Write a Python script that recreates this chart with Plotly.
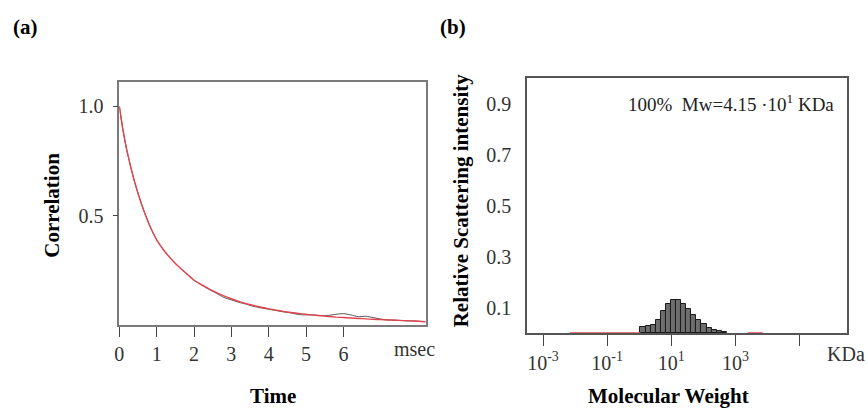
import plotly.graph_objects as go

# ---------------- data ----------------
# Panel (a): correlation function
time_ms = [0.0, 0.1, 0.2, 0.4, 0.6, 0.8, 1.0, 1.2, 1.4, 1.6, 1.8, 2.0, 2.2, 2.4, 2.6, 2.8,
           3.0, 3.2, 3.4, 3.6, 3.8, 4.0, 4.2, 4.4, 4.6, 4.8, 5.0, 5.2, 5.4, 5.6, 5.8,
           6.0, 6.2, 6.4, 6.6, 6.8, 7.0, 7.2, 7.4, 7.6, 7.8, 8.0, 8.2]
corr_fit = [1.0, 0.89, 0.80, 0.66, 0.55, 0.46, 0.39, 0.34, 0.30, 0.265, 0.235, 0.205, 0.185,
            0.165, 0.148, 0.133, 0.12, 0.108, 0.098, 0.089, 0.081, 0.074, 0.068, 0.062,
            0.057, 0.053, 0.049, 0.045, 0.042, 0.039, 0.036, 0.034, 0.032, 0.030, 0.028,
            0.026, 0.025, 0.023, 0.022, 0.020, 0.019, 0.017, 0.015]
corr_data = [1.0, 0.89, 0.80, 0.66, 0.55, 0.46, 0.39, 0.34, 0.30, 0.265, 0.235, 0.205, 0.183,
             0.163, 0.145, 0.126, 0.115, 0.104, 0.095, 0.085, 0.078, 0.072, 0.066, 0.060,
             0.055, 0.048, 0.046, 0.046, 0.043, 0.044, 0.049, 0.052, 0.046, 0.038, 0.040,
             0.034, 0.027, 0.023, 0.022, 0.020, 0.019, 0.017, 0.015]
time_ticks = [0, 1, 2, 3, 4, 5, 6]
corr_ticks = [0.5, 1.0]
corr_tick_labels = ["0.5", "1.0"]

# Panel (b): molecular weight distribution (log10 of KDa)
mw_log10_centers = [0.115, 0.274, 0.432, 0.591, 0.749, 0.908, 1.066, 1.225, 1.383,
                    1.542, 1.700, 1.859, 2.017, 2.176, 2.334, 2.493, 2.651]
mw_bin_width = 0.1585
intensity = [0.022, 0.026, 0.030, 0.050, 0.087, 0.113, 0.129, 0.129, 0.114, 0.093,
             0.072, 0.050, 0.034, 0.020, 0.011, 0.007, 0.003]
fit_zero_segments = [[-2.16, 0.04], [3.38, 3.85]]
mw_tick_log = [-3, -1, 1, 3, 5]
mw_tick_labels = ["10<sup>-3</sup>", "10<sup>-1</sup>", "10<sup>1</sup>", "10<sup>3</sup>", ""]
int_ticks = [0.1, 0.3, 0.5, 0.7, 0.9]
int_tick_labels = ["0.1", "0.3", "0.5", "0.7", "0.9"]

# ---------------- figure ----------------
W, H = 868, 411
SERIF = "Liberation Serif, Times New Roman, serif"
FRAME = "#7a7a7a"
TICKCOL = "#333333"

fig = go.Figure()

fig.add_trace(go.Scatter(x=time_ms, y=corr_data, mode="lines",
                         line=dict(color="#555555", width=1, shape="spline", smoothing=0.6),
                         xaxis="x", yaxis="y", showlegend=False))
fig.add_trace(go.Scatter(x=time_ms, y=corr_fit, mode="lines",
                         line=dict(color="#e2444e", width=1.4, shape="spline", smoothing=0.6),
                         xaxis="x", yaxis="y", showlegend=False))

fig.add_trace(go.Bar(x=mw_log10_centers, y=intensity, width=mw_bin_width,
                     marker=dict(color="#6e6e6e", line=dict(color="#1a1a1a", width=1)),
                     xaxis="x2", yaxis="y2", showlegend=False))
for seg in fit_zero_segments:
    fig.add_trace(go.Scatter(x=seg, y=[0, 0], mode="lines",
                             line=dict(color="#e2444e", width=1.5),
                             xaxis="x2", yaxis="y2", showlegend=False, cliponaxis=False))

axis_font = dict(family=SERIF, size=20, color=TICKCOL)

fig.update_layout(
    width=W, height=H,
    margin=dict(l=0, r=0, t=0, b=0),
    paper_bgcolor="white", plot_bgcolor="white",
    font=dict(family=SERIF, color="black"),
    bargap=0,
    xaxis=dict(domain=[115 / W, 423 / W], range=[0, 8.2], anchor="y",
               tickmode="array", tickvals=time_ticks, ticks="outside", ticklen=10,
               tickcolor="#444444", tickwidth=1, tickfont=axis_font,
               showline=True, linecolor=FRAME, linewidth=1.5, mirror=True,
               showgrid=False, zeroline=False),
    yaxis=dict(domain=[(H - 325) / H, (H - 82) / H], range=[0, 1.112], anchor="x",
               tickmode="array", tickvals=corr_ticks, ticktext=corr_tick_labels,
               ticks="outside", ticklen=5, tickcolor="#444444", tickfont=axis_font,
               ticklabelstandoff=5,
               showline=True, linecolor=FRAME, linewidth=1.5, mirror=True,
               showgrid=False, zeroline=False),
    xaxis2=dict(domain=[525 / W, 847 / W], range=[-3.5, 6.48], anchor="y2",
                tickmode="array", tickvals=mw_tick_log, ticktext=mw_tick_labels,
                ticks="outside", ticklen=11, tickcolor="#444444", tickfont=axis_font,
                showline=True, linecolor="#555555", linewidth=1.5, mirror=True,
                showgrid=False, zeroline=False, layer="below traces"),
    yaxis2=dict(domain=[(H - 333) / H, (H - 78) / H], range=[0, 1.0], anchor="x2",
                tickmode="array", tickvals=int_ticks, ticktext=int_tick_labels,
                ticks="", tickfont=axis_font, ticklabelstandoff=10,
                showline=True, linecolor="#555555", linewidth=1.5, mirror=True,
                showgrid=False, zeroline=False),
)

title_font = dict(family=SERIF, size=21, color="black")
annotations = [
    dict(text="<b>(a)</b>", x=21 / W, y=(H - 27) / H, font=title_font),
    dict(text="<b>(b)</b>", x=451 / W, y=(H - 27) / H, font=title_font),
    dict(text="<b>Correlation</b>", x=47 / W, y=(H - 205) / H, textangle=-90, font=title_font),
    dict(text="<b>Time</b>", x=270 / W, y=(H - 396) / H, font=title_font),
    dict(text="<b>Relative Scattering intensity</b>", x=459 / W, y=(H - 200) / H,
         textangle=-90, font=title_font),
    dict(text="<b>Molecular Weight</b>", x=667 / W, y=(H - 396) / H, font=title_font),
    dict(text="msec", x=412 / W, y=(H - 349) / H, font=axis_font),
    dict(text="KDa", x=846 / W, y=(H - 354) / H, font=axis_font),
    dict(text="100%  Mw=4.15 ·10<sup>1</sup> KDa", x=730 / W, y=(H - 103) / H,
         font=dict(family=SERIF, size=19, color="#222222")),
]
for a in annotations:
    a.update(xref="paper", yref="paper", showarrow=False, xanchor="center", yanchor="middle")
fig.update_layout(annotations=annotations)

fig.write_html("out.html")
